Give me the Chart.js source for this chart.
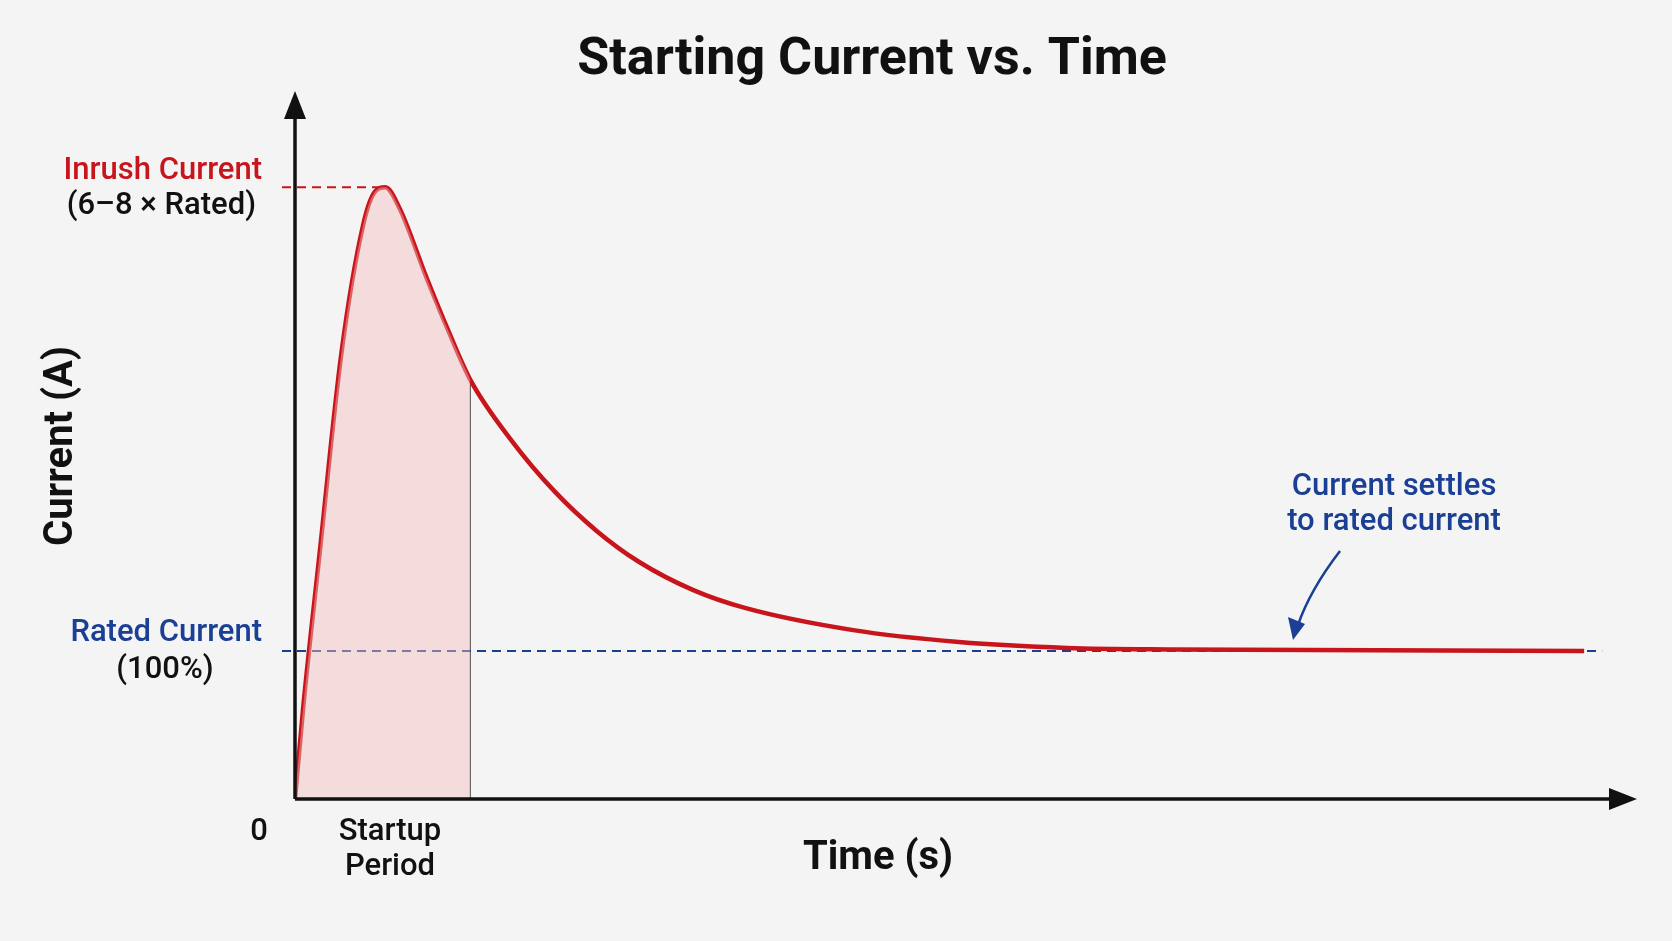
<!DOCTYPE html>
<html>
<head>
<meta charset="utf-8">
<script src="https://cdn.jsdelivr.net/npm/chart.js@4"></script>
<style>
  html, body { margin: 0; background: #f4f4f4; }
  #wrap { width: 1672px; height: 941px; }
</style>
</head>
<body>
<div id="wrap"><canvas id="chart" width="1672" height="941"></canvas></div>
<script>
// time (s) and current (% of rated)
const timeValues = [0, 0.066, 0.19, 0.36, 0.53, 0.62, 0.70, 0.81, 1.02, 1.19, 1.36, 1.68, 2.01, 2.34, 2.67, 3.09, 3.49, 4.33, 5.15, 5.99, 6.81, 10];
const currentValues = [0, 64, 165, 301, 388, 410, 413, 399, 352, 316, 283, 242, 208, 181, 160, 141, 129, 114, 106, 102, 101, 100];
const startupEnd = 1.36;
const ratedCurrent = 100;
const inrushPeak = 413;

const RED = '#c8141b';
const BLUE = '#1a3f94';
const FONT = 'Roboto, "Noto Sans", sans-serif';

const curve = timeValues.map((t, i) => ({ x: t, y: currentValues[i] }));
const startup = curve.filter(p => p.x <= startupEnd);

const annotations = {
    id: 'annotations',
    beforeDatasetsDraw(chart) {
        const { ctx, scales: { x, y } } = chart;
        const x0 = x.getPixelForValue(0), y0 = y.getPixelForValue(0);
        ctx.save();
        // vertical line at end of startup period
        ctx.strokeStyle = '#555';
        ctx.lineWidth = 1.2;
        ctx.beginPath();
        ctx.moveTo(x.getPixelForValue(startupEnd), y0);
        ctx.lineTo(x.getPixelForValue(startupEnd), y.getPixelForValue(283));
        ctx.stroke();
        // dashed reference lines
        ctx.setLineDash([9, 6]);
        ctx.lineWidth = 2;
        ctx.strokeStyle = BLUE;
        ctx.beginPath();
        ctx.moveTo(x0 - 13, y.getPixelForValue(ratedCurrent));
        ctx.lineTo(x.getPixelForValue(10.14), y.getPixelForValue(ratedCurrent));
        ctx.stroke();
        ctx.strokeStyle = RED;
        ctx.beginPath();
        ctx.moveTo(x0 - 13, y.getPixelForValue(inrushPeak));
        ctx.lineTo(x.getPixelForValue(0.7), y.getPixelForValue(inrushPeak));
        ctx.stroke();
        ctx.restore();
    },
    afterDraw(chart) {
        const { ctx, scales: { x, y } } = chart;
        const x0 = x.getPixelForValue(0), y0 = y.getPixelForValue(0);
        const xr = x.right, yt = y.top;
        ctx.save();
        // axes with arrows
        ctx.strokeStyle = '#111';
        ctx.fillStyle = '#111';
        ctx.lineWidth = 3.5;
        ctx.beginPath();
        ctx.moveTo(x0, y0); ctx.lineTo(x0, yt + 20);
        ctx.moveTo(x0, y0); ctx.lineTo(xr - 24, y0);
        ctx.stroke();
        ctx.beginPath();
        ctx.moveTo(x0, yt); ctx.lineTo(x0 - 11, yt + 28); ctx.lineTo(x0 + 11, yt + 28); ctx.closePath(); ctx.fill();
        ctx.beginPath();
        ctx.moveTo(xr, y0); ctx.lineTo(xr - 28, y0 - 11); ctx.lineTo(xr - 28, y0 + 11); ctx.closePath(); ctx.fill();

        // texts
        ctx.textBaseline = 'middle';
        ctx.textAlign = 'center';
        ctx.font = `bold 52px ${FONT}`;
        ctx.fillText('Starting Current vs. Time', 872, 61);
        ctx.font = `bold 40px ${FONT}`;
        ctx.fillText('Time (s)', 878, 859);
        ctx.save();
        ctx.translate(62, 446);
        ctx.rotate(-Math.PI / 2);
        ctx.fillText('Current (A)', 0, 0);
        ctx.restore();

        ctx.font = `500 31px ${FONT}`;
        ctx.fillText('0', 259, 832);
        ctx.fillText('Startup', 390, 832);
        ctx.fillText('Period', 390, 867);

        ctx.textAlign = 'right';
        ctx.fillStyle = RED;
        ctx.fillText('Inrush Current', 262, 171);
        ctx.fillStyle = '#111';
        ctx.fillText('(6–8 × Rated)', 256, 206);
        ctx.fillStyle = BLUE;
        ctx.fillText('Rated Current', 262, 633);
        ctx.fillStyle = '#111';
        ctx.textAlign = 'center';
        ctx.fillText('(100%)', 165, 670);

        ctx.fillStyle = BLUE;
        ctx.fillText('Current settles', 1394, 487);
        ctx.fillText('to rated current', 1394, 522);
        // curved pointer
        ctx.strokeStyle = BLUE;
        ctx.lineWidth = 2.5;
        ctx.beginPath();
        ctx.moveTo(1340, 551);
        ctx.quadraticCurveTo(1310, 590, 1298, 625);
        ctx.stroke();
        ctx.beginPath();
        ctx.moveTo(1293, 640); ctx.lineTo(1288, 617); ctx.lineTo(1305, 624); ctx.closePath(); ctx.fill();
        ctx.restore();
    }
};

new Chart(document.getElementById('chart'), {
    type: 'line',
    data: {
        datasets: [
            {
                label: 'Startup period',
                data: startup,
                borderWidth: 0,
                pointRadius: 0,
                fill: 'origin',
                backgroundColor: 'rgba(244, 190, 190, 0.45)',
                cubicInterpolationMode: 'monotone'
            },
            {
                label: 'Current',
                data: curve,
                borderColor: RED,
                borderWidth: 4.5,
                pointRadius: 0,
                fill: false,
                cubicInterpolationMode: 'monotone'
            }
        ]
    },
    options: {
        responsive: false,
        animation: false,
        layout: { padding: { left: 295, right: 35, top: 91, bottom: 142 } },
        plugins: { legend: { display: false }, tooltip: { enabled: false } },
        scales: {
            x: { type: 'linear', min: 0, max: 10.41, display: false },
            y: { min: 0, max: 478, display: false }
        }
    },
    plugins: [annotations]
});
</script>
</body>
</html>
